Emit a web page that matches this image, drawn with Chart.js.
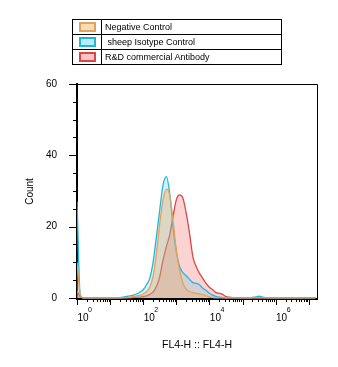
<!DOCTYPE html>
<html lang="en">
<head>
<meta charset="UTF-8">
<title>FL4-H histogram overlay</title>
<script src="https://cdn.jsdelivr.net/npm/chart.js@4.4.0/dist/chart.umd.min.js"></script>
<style>
  body { margin: 0; background: #fff; }
  #wrap { position: relative; width: 338px; height: 367px; }
  #legend {
    position: absolute; left: 72px; top: 19px; width: 210px;
    border-collapse: collapse; font: 9px "Liberation Sans", Arial, sans-serif; color: #000;
  }
  #legend td { border: 1px solid #000; height: 14px; padding: 0; }
  #legend td.sw { width: 28px; text-align: center; }
  #legend td.tx { padding-left: 3px; }
  #legend span { display: inline-block; width: 13px; height: 6px; vertical-align: middle; border-width: 2px; border-style: solid; }
</style>
</head>
<body>
<div id="wrap">
  <canvas id="chart" width="338" height="367"></canvas>
  <table id="legend"></table>
</div>
<script>
// series names and colours
const seriesNames = ['Negative Control', '\u00a0sheep Isotype Control', 'R&D commercial Antibody'];
const lineColors = ['#e3a25c', '#22b5dc', '#dc4646'];
const fillColors = ['rgba(232,165,100,0.35)', 'rgba(70,190,220,0.22)', 'rgba(245,120,120,0.33)'];
const swatchFill = ['#fcdcb8', '#b8eaf4', '#f8c6c6'];

// FL4-H bin centres
const binValue = [1, 1.26, 1.58, 15.8, 20, 25.1, 31.6, 39.8, 50.1, 63.1, 79.4,
  100, 126, 158, 200, 251, 316, 398, 501, 631, 794,
  1000, 1259, 1585, 1995, 2512, 3162, 3981, 5012, 6310, 7943,
  10000, 12589, 15849, 19953, 25119, 31623, 39811, 50119, 63096, 79433,
  100000, 158489, 251189, 316228, 398107, 630957, 15848932];

// counts per bin
const negCount = [10, 1, 0, 0, 0, 0.1, 0.1, 0.2, 0.4, 0.6, 0.7,
  1.1, 1.8, 3, 6.2, 12.5, 20.9, 27.5, 30.5, 28.9, 21.9,
  13.5, 7.7, 4.1, 2.4, 1.8, 1.5, 1.3, 1.1, 0.9, 0.6,
  0.3, 0.1, 0, 0, 0, 0, 0, 0, 0, 0,
  0, 0, 0, 0, 0, 0, 0];
const isoCount = [27, 0.5, 0, 0, 0.1, 0.2, 0.4, 0.6, 0.8, 1.1, 1.6,
  2.3, 3.7, 5.5, 10.2, 17.2, 24.7, 31.7, 34, 29.3, 20,
  13, 8.8, 7.1, 6.2, 5.2, 4.3, 4.1, 3.7, 2.7, 2.1,
  1.3, 0.8, 0.4, 0.2, 0.1, 0, 0, 0, 0, 0,
  0, 0, 0.3, 0.5, 0.2, 0, 0];
const rndCount = [2, 0.2, 0, 0, 0, 0, 0, 0, 0.1, 0.2, 0.2,
  0.4, 0.6, 1, 1.7, 3.2, 6, 10.7, 14.4, 17.7, 22.8,
  27.5, 28.9, 28, 23.7, 18.1, 11.6, 8.8, 6.9, 5.5, 4.1,
  3, 2.3, 1.5, 1.3, 1, 0.4, 0.2, 0.1, 0.1, 0.1,
  0, 0, 0, 0, 0, 0, 0];

// axis ticks
const xTickValues = [1, 100, 10000, 1000000];
const xTickBase = ['10', '10', '10', '10'];
const xTickExponents = ['0', '2', '4', '6'];
const yTickValues = [0, 20, 40, 60];

// legend
const legend = document.getElementById('legend');
seriesNames.forEach((name, i) => {
  const tr = document.createElement('tr');
  const sw = document.createElement('td');
  sw.className = 'sw';
  const box = document.createElement('span');
  box.style.borderColor = lineColors[i];
  box.style.background = swatchFill[i];
  sw.appendChild(box);
  const tx = document.createElement('td');
  tx.className = 'tx';
  tx.textContent = name;
  tr.appendChild(sw);
  tr.appendChild(tx);
  legend.appendChild(tr);
});

const family = '"Liberation Sans", Arial, sans-serif';
const font = { family: family, size: 10 };
const xLabelShift = 6;

// minor/major tick marks, exponents and the frame
const axisTicks = {
  id: 'axisTicks',
  afterDraw(chart) {
    const { ctx, chartArea: a, scales: { x, y } } = chart;
    ctx.save();
    ctx.strokeStyle = '#000';
    ctx.lineWidth = 1;
    ctx.beginPath();
    ctx.moveTo(a.left, a.top + 0.5);
    ctx.lineTo(a.right + 0.5, a.top + 0.5);
    ctx.lineTo(a.right + 0.5, a.bottom);
    ctx.stroke();

    ctx.beginPath();
    for (let d = 0; d <= 7; d++) {
      for (let m = 1; m <= 9; m++) {
        const v = m * Math.pow(10, d);
        if (v > x.max) break;
        const px = Math.round(x.getPixelForValue(v)) + 0.5;
        const len = m === 1 ? 6 : 3;
        ctx.moveTo(px, a.bottom);
        ctx.lineTo(px, a.bottom + len);
      }
    }
    for (let v = 0; v <= 60; v += 5) {
      const py = Math.round(y.getPixelForValue(v)) + 0.5;
      const len = v % 20 === 0 ? 8 : 4;
      ctx.moveTo(a.left, py);
      ctx.lineTo(a.left - len, py);
    }
    ctx.stroke();

    // superscript exponents after each "10"
    ctx.font = '10px ' + family;
    const baseW = ctx.measureText('10').width;
    ctx.font = '7px ' + family;
    ctx.fillStyle = '#000';
    ctx.textAlign = 'left';
    ctx.textBaseline = 'middle';
    xTickValues.forEach((v, i) => {
      const px = x.getPixelForValue(v) + xLabelShift + baseW / 2 - 0.5;
      ctx.fillText(xTickExponents[i], px, a.bottom + 11);
    });
    ctx.restore();
  }
};

new Chart(document.getElementById('chart'), {
  type: 'line',
  data: {
    datasets: [
      { label: seriesNames[0], data: binValue.map((v, i) => ({ x: v, y: negCount[i] })),
        borderColor: lineColors[0], backgroundColor: fillColors[0] },
      { label: seriesNames[1], data: binValue.map((v, i) => ({ x: v, y: isoCount[i] })),
        borderColor: lineColors[1], backgroundColor: fillColors[1] },
      { label: seriesNames[2], data: binValue.map((v, i) => ({ x: v, y: rndCount[i] })),
        borderColor: lineColors[2], backgroundColor: fillColors[2] }
    ].map(ds => Object.assign(ds, {
      fill: 'origin', borderWidth: 1.3, pointRadius: 0, tension: 0.35,
      cubicInterpolationMode: 'monotone'
    }))
  },
  options: {
    responsive: false,
    animation: false,
    layout: { padding: { left: 0, top: 84, right: 21, bottom: 0 } },
    plugins: { legend: { display: false }, tooltip: { enabled: false } },
    scales: {
      x: {
        type: 'logarithmic',
        min: 1,
        max: 17782794,
        afterFit: s => { s.height = 68; },
        afterBuildTicks: s => { s.ticks = xTickValues.map(v => ({ value: v })); },
        grid: { display: false },
        border: { display: true, color: '#000', width: 2 },
        ticks: {
          font: font, color: '#000', padding: 5, labelOffset: xLabelShift, maxRotation: 0,
          autoSkip: false,
          callback: (v, i) => xTickBase[i]
        },
        title: { display: true, text: 'FL4-H :: FL4-H', color: '#000',
          font: { family: family, size: 10.5 }, padding: { top: 0, bottom: 16 } }
      },
      y: {
        min: -0.3,
        max: 60,
        afterFit: s => { s.width = 77; },
        afterBuildTicks: s => { s.ticks = yTickValues.map(v => ({ value: v })); },
        grid: { display: false },
        border: { display: true, color: '#000', width: 2 },
        ticks: { font: font, color: '#000', padding: 12, callback: v => String(v) },
        title: { display: true, text: 'Count', color: '#000', font: font,
          padding: { top: 24, bottom: 0 } }
      }
    }
  },
  plugins: [axisTicks]
});
</script>
</body>
</html>
